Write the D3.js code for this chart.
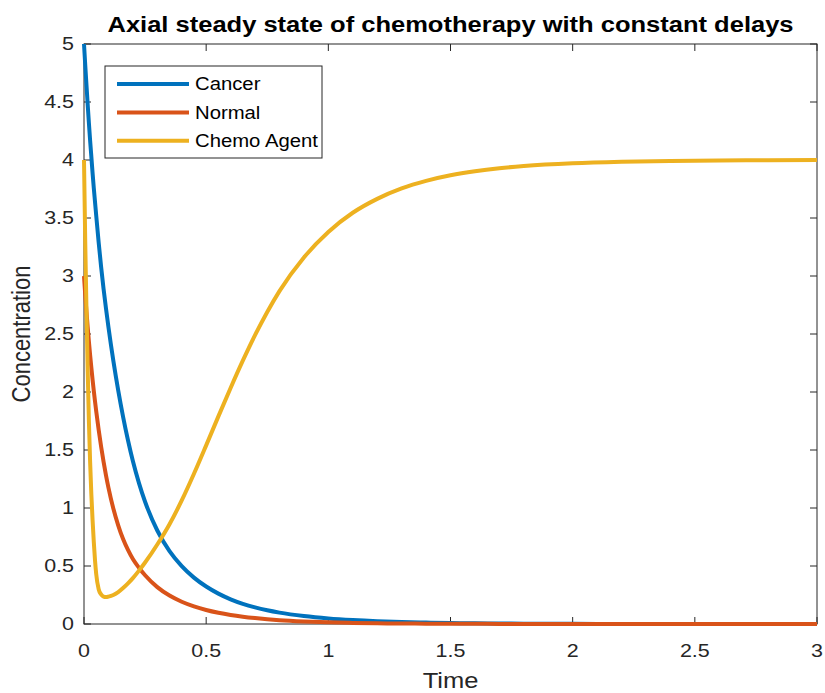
<!DOCTYPE html>
<html>
<head>
<meta charset="utf-8">
<script src="https://cdn.jsdelivr.net/npm/d3@7"></script>
<style>
  html, body { margin: 0; padding: 0; background: #fff; }
  svg { display: block; font-family: "Liberation Sans", Arial, Helvetica, sans-serif; }
</style>
</head>
<body>
<svg id="chart" width="825" height="693"></svg>
<script>
// Simulated concentrations over time
const time   = [0, 0.005, 0.01, 0.015, 0.02, 0.025, 0.03, 0.035, 0.04, 0.045, 0.05, 0.06, 0.07, 0.08, 0.09, 0.1, 0.12, 0.14, 0.16, 0.18, 0.2, 0.225, 0.25, 0.3, 0.35, 0.4, 0.45, 0.5, 0.55, 0.6, 0.65, 0.7, 0.75, 0.8, 0.9, 1.0, 1.1, 1.2, 1.3, 1.4, 1.5, 1.6, 1.7, 1.8, 2.0, 2.2, 2.4, 2.6, 2.8, 3.0];
const cancer = [5.0, 4.82, 4.65, 4.48, 4.32, 4.17, 4.03, 3.89, 3.76, 3.64, 3.52, 3.29, 3.08, 2.89, 2.72, 2.56, 2.27, 2.014, 1.786, 1.584, 1.405, 1.215, 1.054, 0.806, 0.628, 0.499, 0.4, 0.323, 0.262, 0.213, 0.174, 0.143, 0.118, 0.098, 0.0685, 0.048, 0.034, 0.024, 0.017, 0.012, 0.0085, 0.006, 0.0043, 0.003, 0.0015, 0.0008, 0.0004, 0.0002, 0.0001, 0.00005];
const normal = [3.0, 2.84, 2.695, 2.561, 2.436, 2.32, 2.211, 2.108, 2.011, 1.92, 1.834, 1.674, 1.53, 1.4, 1.282, 1.176, 0.996, 0.851, 0.732, 0.638, 0.56, 0.485, 0.42, 0.318, 0.245, 0.192, 0.152, 0.121, 0.097, 0.078, 0.063, 0.051, 0.041, 0.033, 0.022, 0.0145, 0.0094, 0.0063, 0.0042, 0.0028, 0.0019, 0.0013, 0.0009, 0.0006, 0.0003, 0.00013, 0.00006, 0.00003, 0.00001, 0.000005];
const chemo  = [4.0, 3.3, 2.72, 2.2, 1.75, 1.4, 1.12, 0.9, 0.71, 0.55, 0.43, 0.3, 0.255, 0.236, 0.232, 0.236, 0.25, 0.275, 0.31, 0.35, 0.395, 0.46, 0.53, 0.685, 0.86, 1.065, 1.295, 1.54, 1.79, 2.035, 2.27, 2.49, 2.69, 2.87, 3.16, 3.38, 3.545, 3.665, 3.755, 3.82, 3.868, 3.903, 3.929, 3.948, 3.972, 3.985, 3.992, 3.996, 3.998, 3.999];

const seriesNames  = ["Cancer", "Normal", "Chemo Agent"];
const seriesColors = ["#0072BD", "#D95319", "#EDB120"];
const xTicks = [0, 0.5, 1, 1.5, 2, 2.5, 3];
const yTicks = [0, 0.5, 1, 1.5, 2, 2.5, 3, 3.5, 4, 4.5, 5];

const titleText = "Axial steady state of chemotherapy with constant delays";
const xLabel = "Time";
const yLabel = "Concentration";

const svg = d3.select("#chart");
const box = { left: 84, right: 817, top: 44, bottom: 624 };
const axisColor = "#262626";
const stretch = 1.16;   // horizontal glyph widening used throughout the figure text

const x = d3.scaleLinear().domain([0, 3]).range([box.left, box.right]);
const y = d3.scaleLinear().domain([0, 5]).range([box.bottom, box.top]);

// text helper with horizontal widening
function label(g, px, py, str, opts) {
  const t = g.append("text")
    .attr("transform", `translate(${px},${py}) scale(${stretch},1)`)
    .attr("font-size", opts.size)
    .attr("fill", opts.fill || axisColor)
    .attr("text-anchor", opts.anchor || "middle")
    .text(str);
  if (opts.weight) t.attr("font-weight", opts.weight);
  if (opts.dy) t.attr("dy", opts.dy);
  return t;
}

// axes box
svg.append("rect")
  .attr("x", box.left).attr("y", box.top)
  .attr("width", box.right - box.left).attr("height", box.bottom - box.top)
  .attr("fill", "#fff").attr("stroke", axisColor).attr("stroke-width", 1);

// ticks (inward on all four sides)
const tickLen = 7;
const tk = svg.append("g").attr("stroke", axisColor).attr("stroke-width", 1);
xTicks.forEach(v => {
  const px = x(v);
  tk.append("line").attr("x1", px).attr("x2", px).attr("y1", box.bottom).attr("y2", box.bottom - tickLen);
  tk.append("line").attr("x1", px).attr("x2", px).attr("y1", box.top).attr("y2", box.top + tickLen);
});
yTicks.forEach(v => {
  const py = y(v);
  tk.append("line").attr("x1", box.left).attr("x2", box.left + tickLen).attr("y1", py).attr("y2", py);
  tk.append("line").attr("x1", box.right).attr("x2", box.right - tickLen).attr("y1", py).attr("y2", py);
});

// tick labels
const tl = svg.append("g");
const xFmt = d3.format("~g");
xTicks.forEach(v => label(tl, x(v), 657, xFmt(v), { size: 18.5 }));
yTicks.forEach(v => label(tl, 74, y(v), xFmt(v), { size: 18.5, anchor: "end", dy: "0.35em" }));

// axis titles
label(svg, (box.left + box.right) / 2, 688, xLabel, { size: 22 });
svg.append("text")
  .attr("transform", `translate(30,${(box.top + box.bottom) / 2}) scale(${stretch},1) rotate(-90)`)
  .attr("font-size", 22).attr("fill", axisColor).attr("text-anchor", "middle")
  .text(yLabel);

// chart title
label(svg, (box.left + box.right) / 2, 32, titleText, { size: 22, weight: "bold", fill: "#000" });

// curves
const allSeries = [cancer, normal, chemo];
const line = d3.line()
  .x(d => x(d[0]))
  .y(d => y(d[1]))
  .curve(d3.curveMonotoneX);

allSeries.forEach((vals, i) => {
  svg.append("path")
    .datum(time.map((t, k) => [t, vals[k]]))
    .attr("fill", "none")
    .attr("stroke", seriesColors[i])
    .attr("stroke-width", 4)
    .attr("stroke-linejoin", "round")
    .attr("d", line);
});

// legend
const lg = svg.append("g");
lg.append("rect")
  .attr("x", 105).attr("y", 66).attr("width", 217).attr("height", 92)
  .attr("fill", "#fff").attr("stroke", axisColor).attr("stroke-width", 1);
seriesNames.forEach((name, i) => {
  const ry = 84 + i * 28.4;
  lg.append("line")
    .attr("x1", 117).attr("x2", 189).attr("y1", ry).attr("y2", ry)
    .attr("stroke", seriesColors[i]).attr("stroke-width", 4);
  label(lg, 195, ry, name, { size: 17.5, anchor: "start", dy: "0.35em", fill: "#000" });
});
</script>
</body>
</html>
